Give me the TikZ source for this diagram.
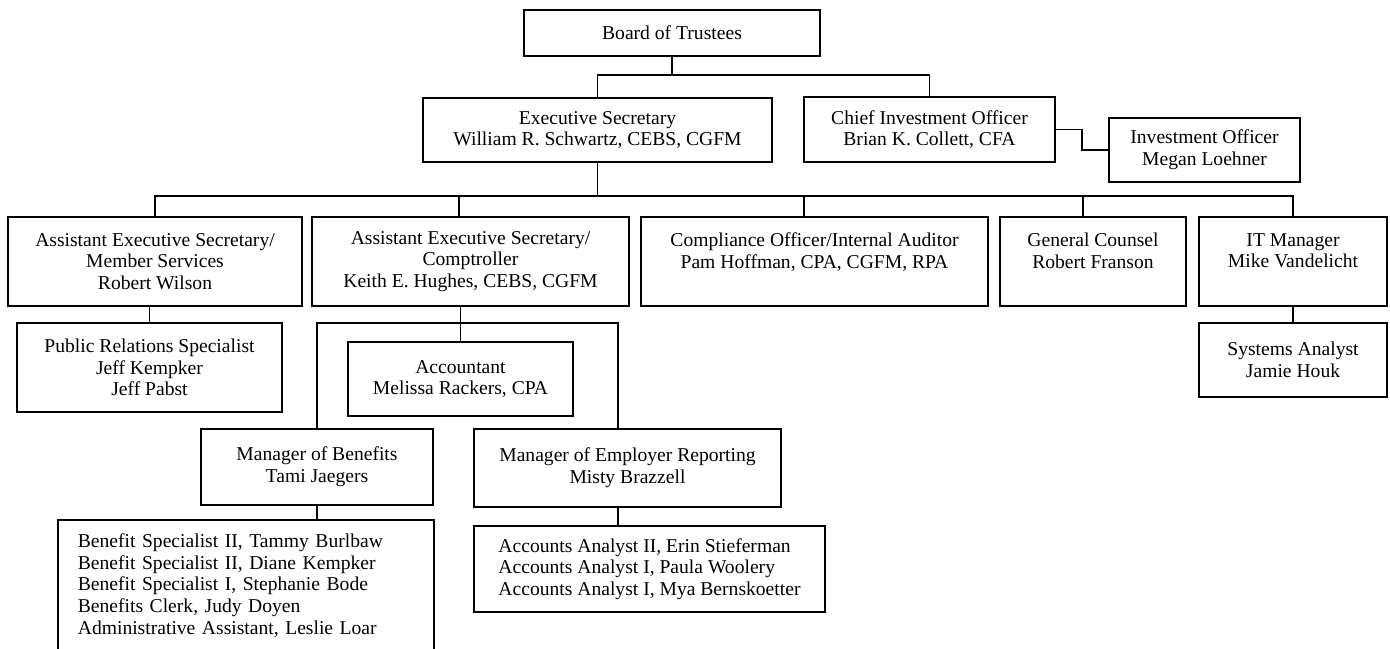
\documentclass[tikz,border=0pt]{standalone}
\usepackage{fontspec}
\setmainfont{Liberation Serif}
\usepackage{tikz}
\usetikzlibrary{calc, positioning}

\tikzset{
    unit/.style={draw, line width=0.85pt, inner sep=0pt, align=center, font=\fontsize{9.8}{10.8}\selectfont},
    link/.style={line width=0.85pt}
}

\begin{document}
\begin{tikzpicture}[x=0.5pt, y=-0.5pt]
                        \clip (0, 0) rectangle (1390, 648);
                        % top levels
                        \node[unit, minimum width=148pt, minimum height=23pt] (board) at (672, 33) {Board of Trustees};
                        \node[unit, minimum width=174.5pt, minimum height=32pt] (exec) at (597.5, 130) {Executive Secretary\\William R. Schwartz, CEBS, CGFM};
                        \node[unit, minimum width=125.5pt, minimum height=32.5pt] (cio) at (929.5, 129.5) {Chief Investment Officer\\Brian K. Collett, CFA};
                        \node[unit, minimum width=95.5pt, minimum height=32pt] (invest) at (1204.5, 150) {Investment Officer\\Megan Loehner};
                        % second level
                        \node[unit, minimum width=147pt, minimum height=44.5pt] (member) at (155, 261.5) {Assistant Executive Secretary/\\Member Services\\Robert Wilson};
                        \node[unit, minimum width=158.5pt, minimum height=44.5pt] (comp) at (470.5, 261.5) {Assistant Executive Secretary/\\Comptroller\\Keith E. Hughes, CEBS, CGFM};
                        \node[unit, minimum width=173.5pt, minimum height=44.5pt] (compl) at (814.5, 261.5) {Compliance Officer/Internal Auditor\\Pam Hoffman, CPA, CGFM, RPA\\\mbox{}};
                        \node[unit, minimum width=93pt, minimum height=44.5pt] (counsel) at (1093, 261.5) {General Counsel\\Robert Franson\\\mbox{}};
                        \node[unit, minimum width=94pt, minimum height=44.5pt] (itmgr) at (1293, 261.5) {IT Manager\\Mike Vandelicht\\\mbox{}};
                        % third level
                        \node[unit, minimum width=132.5pt, minimum height=44.5pt] (pr) at (149.5, 367.5) {Public Relations Specialist\\Jeff Kempker\\Jeff Pabst};
                        \node[unit, minimum width=112.5pt, minimum height=37pt] (acct) at (460.5, 379) {Accountant\\Melissa Rackers, CPA};
                        \node[unit, minimum width=94pt, minimum height=37pt] (sys) at (1293, 360) {Systems Analyst\\Jamie Houk};
                        \node[unit, minimum width=116pt, minimum height=38pt] (benmgr) at (317, 467) {Manager of Benefits\\Tami Jaegers};
                        \node[unit, minimum width=153.5pt, minimum height=39pt] (empmgr) at (627.5, 468) {Manager of Employer Reporting\\Misty Brazzell};
                        % staff lists
                        \node[unit, anchor=north west, align=left, text width=168pt, inner xsep=10pt, inner ysep=7pt] (benlist) at (57, 519) {Benefit Specialist II, Tammy Burlbaw\\Benefit Specialist II, Diane Kempker\\Benefit Specialist I, Stephanie Bode\\Benefits Clerk, Judy Doyen\\Administrative Assistant, Leslie Loar};
                        \node[unit, align=left, minimum width=175.5pt, minimum height=43pt] (acctlist) at (649.5, 569) {Accounts Analyst II, Erin Stieferman\\Accounts Analyst I, Paula Woolery\\Accounts Analyst I, Mya Bernskoetter};
                        % connectors
                        \coordinate (bar1) at (672, 75);
                        \coordinate (bar2) at (597.5, 196);
                        \coordinate (bar3) at (459, 323);
                        \coordinate (mid) at ($(cio.east)!0.5!(invest.west)$);
                        \coordinate (empfoot) at ($(empmgr.south)+(-9.5, 0)$);
                        \draw[link] (board.south) -- (bar1);
                        \draw[link] (exec.north) |- (bar1) -| (cio.north);
                        \draw[link] (cio.east) -| (mid) |- (invest.west);
                        \draw[link] (exec.south) -- (bar2);
                        \draw[link] (member.north) |- (bar2) -| (itmgr.north);
                        \foreach \n/\dx in {comp/-11.5, compl/-10.5, counsel/-10}
                            \draw[link] ($(\n.north)+(\dx, 0)$) |- (bar2);
                        \draw[link] (pr.north) -- (pr.north |- member.south);
                        \draw[link] (acct.north) -- (acct.north |- comp.south);
                        \draw[link] (benmgr.north) |- (bar3) -| ($(empmgr.north)+(-9.5, 0)$);
                        \draw[link] (benmgr.south) -- (benmgr.south |- benlist.north);
                        \draw[link] (empfoot) -- (empfoot |- acctlist.north);
                        \draw[link] (itmgr.south) -- (sys.north);
                    \end{tikzpicture}
\end{document}
